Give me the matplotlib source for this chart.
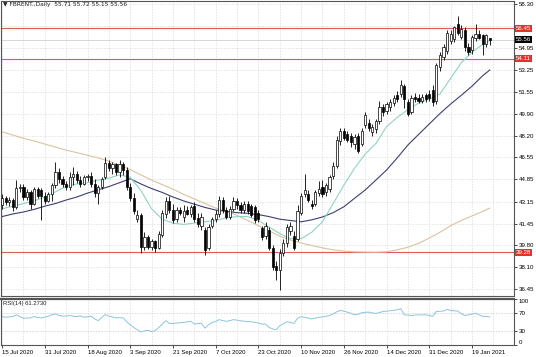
import matplotlib
matplotlib.use("Agg")
import matplotlib.pyplot as plt

plt.rcParams['font.family'] = ['Liberation Sans', 'DejaVu Sans']

# daily candles, FBRENT 15 Jul 2020 .. 26 Jan 2021
opens = [42.9, 43.4, 43.1, 43.3, 42.7, 44.2, 44.3, 43.5, 43.9, 43.0,
         44.1, 44.0, 43.6, 43.2, 43.7, 44.4, 45.4, 44.9, 44.5, 44.3,
         45.0, 45.3, 44.8, 44.5, 45.0, 45.1, 44.5, 43.8, 44.3, 45.0,
         46.1, 45.7, 46.0, 45.4, 46.0, 45.6, 44.3, 43.4, 41.8, 42.1,
         39.7, 40.4, 39.7, 40.1, 39.6, 40.6, 42.2, 43.2, 42.5, 41.8,
         42.5, 42.0, 42.5, 42.2, 42.8, 41.9, 41.3, 41.0, 39.6, 41.3,
         41.8, 42.2, 43.3, 42.5, 42.0, 42.6, 43.2, 42.9, 42.5, 43.0,
         42.8, 42.7, 42.3, 41.1, 40.5, 41.0, 39.6, 38.2, 37.9, 39.2,
         40.0, 40.9, 40.5, 40.3, 42.3, 43.7, 43.7, 43.0, 43.0, 43.8,
         44.3, 43.9, 44.1, 45.1, 45.9, 47.8, 48.6, 48.3, 48.2, 47.6,
         48.2, 47.6, 49.0, 49.2, 48.5, 48.7, 49.3, 50.4, 50.1, 50.4,
         50.7, 51.3, 51.4, 52.0, 50.8, 50.0, 51.2, 51.1, 50.9, 51.3,
         51.4, 51.7, 50.9, 53.5, 54.2, 54.7, 55.5, 55.6, 56.8, 55.8,
         56.3, 55.0, 54.8, 55.7, 56.0, 55.9, 55.2, 55.71]
highs = [43.7, 43.6, 43.5, 43.4, 44.8, 44.5, 44.5, 44.1, 44.0, 44.3,
         44.3, 44.2, 43.9, 43.9, 44.6, 46.2, 45.7, 45.1, 44.7, 45.4,
         45.8, 45.5, 45.1, 45.2, 45.3, 45.4, 44.9, 44.4, 45.0, 46.6,
         46.3, 46.2, 46.1, 46.3, 46.2, 45.8, 44.6, 43.8, 42.5, 42.3,
         40.8, 40.6, 40.3, 40.2, 40.9, 42.5, 43.5, 43.6, 43.0, 42.7,
         42.7, 42.9, 42.8, 42.9, 43.1, 42.3, 42.3, 41.2, 41.4, 42.0,
         42.5, 43.6, 43.5, 42.7, 42.8, 43.5, 43.4, 43.1, 43.2, 43.2,
         43.0, 42.9, 42.5, 41.3, 41.6, 41.2, 39.8, 38.6, 39.5, 40.3,
         41.4, 41.6, 40.9, 42.9, 43.8, 45.3, 44.0, 43.3, 44.0, 44.7,
         44.8, 44.6, 45.2, 46.2, 48.2, 48.8, 48.8, 48.6, 48.4, 48.3,
         48.4, 48.8, 50.0, 49.5, 49.1, 49.5, 50.9, 50.6, 50.8, 51.0,
         51.3, 51.6, 52.5, 52.2, 51.0, 51.3, 51.5, 51.4, 51.4, 51.5,
         51.7, 52.1, 53.8, 54.6, 55.2, 56.3, 56.3, 56.6, 57.4, 56.7,
         56.5, 55.3, 55.9, 56.8, 56.3, 56.0, 56.0, 55.72]
lows = [42.6, 42.9, 42.8, 42.4, 42.6, 43.9, 43.3, 43.3, 42.6, 42.9,
        43.4, 41.7, 43.0, 43.1, 43.2, 44.2, 44.6, 44.3, 44.0, 44.0,
        44.4, 44.6, 44.3, 44.4, 44.7, 44.3, 43.5, 43.0, 44.1, 44.9,
        45.5, 45.3, 45.2, 45.0, 45.2, 44.0, 43.2, 42.2, 41.6, 39.2,
        39.4, 39.5, 39.4, 39.3, 39.5, 40.4, 41.9, 42.3, 41.5, 41.6,
        42.1, 41.6, 42.1, 42.0, 41.6, 41.2, 41.0, 39.05, 39.4, 41.1,
        41.6, 42.0, 42.3, 41.8, 41.8, 42.4, 42.6, 42.3, 42.3, 42.2,
        42.0, 41.5, 41.6, 40.2, 40.3, 39.4, 37.9, 37.1, 36.4, 39.0,
        39.7, 40.6, 39.4, 40.1, 42.1, 43.5, 43.1, 42.6, 42.8, 43.6,
        43.5, 43.6, 43.9, 44.9, 45.7, 47.5, 47.9, 47.7, 47.3, 47.2,
        46.9, 47.4, 48.8, 48.6, 48.2, 48.4, 49.1, 49.7, 49.9, 50.1,
        50.5, 50.8, 51.2, 50.3, 49.7, 49.9, 50.8, 50.7, 50.7, 50.8,
        50.9, 50.5, 50.6, 53.2, 54.0, 54.5, 55.2, 55.4, 55.9, 55.6,
        54.7, 54.4, 54.5, 55.5, 55.6, 54.4, 55.0, 55.15]
closes = [43.4, 43.1, 43.3, 42.7, 44.2, 44.3, 43.5, 43.9, 43.0, 44.1,
          43.6, 43.6, 43.2, 43.7, 44.4, 45.4, 44.9, 44.5, 44.3, 45.0,
          45.3, 44.8, 44.5, 45.0, 45.1, 44.5, 43.8, 44.3, 44.9, 46.1,
          45.7, 46.0, 45.4, 46.0, 45.6, 44.3, 43.4, 42.4, 42.1, 39.7,
          40.4, 39.7, 40.1, 39.6, 40.7, 42.3, 43.2, 42.5, 41.7, 42.5,
          42.3, 42.4, 42.2, 42.7, 41.8, 41.4, 42.0, 39.4, 41.2, 41.8,
          42.2, 43.3, 42.5, 42.0, 42.6, 43.2, 42.9, 42.5, 43.0, 42.4,
          42.1, 41.7, 41.8, 40.4, 41.3, 39.6, 38.1, 37.9, 39.2, 40.0,
          41.2, 41.3, 39.6, 42.4, 43.6, 44.0, 43.3, 42.8, 43.9, 44.1,
          43.7, 44.4, 45.0, 45.9, 47.9, 48.6, 48.0, 47.9, 47.7, 48.1,
          47.0, 48.6, 49.8, 48.8, 48.9, 49.3, 50.4, 50.0, 50.6, 50.8,
          51.1, 51.0, 52.1, 51.0, 49.9, 51.1, 51.0, 50.9, 51.2, 51.0,
          51.1, 50.8, 53.6, 54.4, 55.0, 56.1, 56.0, 56.5, 56.1, 56.4,
          55.0, 54.6, 55.8, 56.0, 55.7, 55.2, 55.9, 55.56]

# moving averages sampled every 3 bars
ma_idx = [0, 3, 6, 9, 12, 15, 18, 21, 24, 27, 30, 33, 36, 39, 42, 45,
          48, 51, 54, 57, 60, 63, 66, 69, 72, 75, 78, 81, 84, 87, 90, 93,
          96, 99, 102, 105, 108, 111, 114, 117, 120, 123, 126, 129, 132,
          135, 137]
ma_fast = [42.6, 42.8, 43.0, 43.2, 43.5, 43.9, 44.3, 44.5, 44.6, 44.8,
           44.95, 45.2, 45.0, 44.0, 42.6, 41.8, 41.5, 41.4, 41.5, 41.6,
           41.7, 41.9, 42.0, 42.0, 41.7, 41.2, 40.7, 40.3, 40.3, 40.8,
           41.6, 43.0, 44.4, 45.7, 46.8, 47.6, 48.9, 49.6, 50.2, 50.7,
           51.0, 51.4, 52.6, 53.8, 54.6, 55.2, 55.5]
ma_slow = [42.0, 42.2, 42.35, 42.55, 42.8, 43.0, 43.27, 43.5, 43.8, 44.05,
           44.3, 44.6, 44.9, 44.5, 44.15, 43.85, 43.5, 43.2, 42.95, 42.7,
           42.5, 42.4, 42.3, 42.25, 42.15, 42.0, 41.8, 41.7, 41.6, 41.75,
           41.97, 42.3, 42.75, 43.4, 44.04, 44.8, 45.57, 46.5, 47.49, 48.3,
           49.1, 49.9, 50.63, 51.3, 52.0, 52.8, 53.24]
ma_long = [48.5, 48.25, 48.0, 47.8, 47.56, 47.33, 47.1, 46.9, 46.7, 46.5,
           46.25, 45.95, 45.6, 45.2, 44.8, 44.45, 44.1, 43.7, 43.35, 43.0,
           42.65, 42.4, 42.1, 41.7, 41.3, 40.9, 40.5, 40.2, 39.97, 39.78,
           39.6, 39.45, 39.35, 39.3, 39.28, 39.27, 39.3, 39.45, 39.65, 39.95,
           40.35, 40.8, 41.3, 41.7, 42.05, 42.4, 42.65]

rsi = [61.8, 60.4, 61.2, 61.8, 65.5, 62.0, 58.1, 58.5, 58.9, 61.8,
       60.0, 58.9, 60.5, 62.6, 66.0, 67.8, 64.1, 62.8, 63.0, 64.1,
       62.5, 61.8, 63.3, 60.4, 61.5, 62.6, 57.0, 52.9, 60.0, 66.3,
       62.6, 61.0, 58.9, 59.5, 58.9, 50.7, 44.0, 38.1, 33.0, 28.5,
       30.7, 32.2, 29.2, 31.0, 38.0, 45.6, 52.9, 47.0, 46.5, 47.8,
       48.5, 49.0, 50.5, 51.5, 45.6, 46.5, 47.0, 36.7, 44.0, 49.3,
       51.0, 55.2, 53.0, 51.5, 53.0, 55.2, 54.0, 53.0, 51.5, 50.7,
       50.7, 49.0, 47.8, 45.6, 45.6, 38.1, 35.0, 33.0, 41.9, 46.0,
       50.7, 49.0, 47.0, 58.1, 61.8, 60.0, 58.0, 56.6, 58.5, 60.4,
       61.0, 62.6, 64.0, 67.8, 72.0, 75.2, 73.5, 71.5, 69.0, 65.5,
       67.0, 70.0, 71.0, 71.5, 70.0, 68.5, 70.5, 72.9, 73.5, 74.4,
       75.5, 76.7, 78.9, 65.5, 65.0, 64.1, 65.0, 65.5, 65.5, 65.5,
       64.0, 62.6, 72.9, 73.3, 73.7, 77.4, 75.2, 74.5, 73.7, 68.0,
       64.1, 65.5, 67.0, 69.3, 65.5, 62.6, 62.0, 61.27]

date_labels = ['15 Jul 2020', '31 Jul 2020', '18 Aug 2020', '3 Sep 2020',
               '21 Sep 2020', '7 Oct 2020', '23 Oct 2020', '10 Nov 2020',
               '26 Nov 2020', '14 Dec 2020', '31 Dec 2020', '19 Jan 2021']
price_ticks = [58.30, 56.60, 54.95, 53.25, 51.55, 49.90, 48.20, 46.55,
               44.85, 43.15, 41.45, 39.80, 38.10, 36.45]
price_labels = ['58.30', '', '54.95', '53.25', '51.55', '49.90', '48.20', '46.55',
                '44.85', '43.15', '41.45', '39.80', '38.10', '36.45']
red_levels = [56.45, 54.11, 39.28]
last_price = 55.56

n = len(closes)
xs = list(range(n))
label_pos = [12 * k for k in range(len(date_labels))]
grid_pos = [6 * k for k in range(24)]

fig = plt.figure(figsize=(5.36, 3.57), dpi=100)
ax = fig.add_axes([1 / 536, 61 / 357, 513 / 536, 295 / 357])
ax2 = fig.add_axes([1 / 536, 12 / 357, 513 / 536, 46 / 357])

grid_kw = dict(color='#d8d8d8', linestyle=(0, (2, 2)), linewidth=0.5)
fs = 4.4

for a in (ax, ax2):
    a.set_xlim(-0.3, 143.8)
    a.set_xticks(grid_pos)
    a.grid(True, **grid_kw)
    a.set_axisbelow(True)
    a.yaxis.tick_right()
    for s in a.spines.values():
        s.set_color('#555555')
        s.set_linewidth(0.8)
ax2.spines['top'].set_linewidth(1.6)

# price panel
ax.set_ylim(35.91, 58.53)
ax.set_yticks(price_ticks)
ax.set_yticklabels(price_labels, fontsize=fs)
ax.tick_params(axis='y', length=2, pad=1.5, width=0.5)
ax.tick_params(axis='x', length=0, labelbottom=False)

for lv in red_levels:
    ax.axhline(lv, color='#e05a5a', linewidth=0.8, zorder=1)
ax.axhline(last_price, color='#c8c8c8', linewidth=0.5, zorder=1)

ax.plot(ma_idx, ma_long, color='#d9c49e', linewidth=0.8, zorder=2)
ax.plot(ma_idx, ma_slow, color='#3c4070', linewidth=0.8, zorder=2)
ax.plot(ma_idx, ma_fast, color='#8fd3c6', linewidth=0.8, zorder=2)

body_bottom = [min(o, c) for o, c in zip(opens, closes)]
body_height = [max(abs(c - o), 0.04) for o, c in zip(opens, closes)]
body_color = ['white' if c >= o else 'black' for o, c in zip(opens, closes)]
ax.vlines(xs, lows, highs, color='black', linewidth=0.6, zorder=3)
ax.bar(xs, body_height, bottom=body_bottom, width=0.62, color=body_color,
       edgecolor='black', linewidth=0.5, zorder=4)

ax.text(0.004, 0.995, '\u25bc FBRENT.,Daily  55.71 55.72 55.15 55.56',
        transform=ax.transAxes, ha='left', va='top', fontsize=4.2,
        color='#222222', family=['DejaVu Sans'])

tr = ax.get_yaxis_transform()
for lv in red_levels:
    ax.text(1.004, lv, '%.2f' % lv, transform=tr, ha='left', va='center',
            fontsize=fs, color='white', clip_on=False, zorder=6,
            bbox=dict(facecolor='#e2332d', edgecolor='none', pad=0.7))
ax.text(1.004, last_price, '%.2f' % last_price, transform=tr, ha='left',
        va='center', fontsize=fs, color='white', clip_on=False, zorder=6,
        bbox=dict(facecolor='black', edgecolor='none', pad=0.7))

# RSI panel
ax2.set_ylim(0, 100)
ax2.set_yticks([100, 70, 30, 0])
ax2.set_yticklabels(['100', '70', '30', '0'], fontsize=fs)
yl = ax2.get_yticklabels()
yl[0].set_va('top')
yl[3].set_va('bottom')
ax2.tick_params(axis='y', length=2, pad=1.5, width=0.5)
for lv in (70, 30):
    ax2.axhline(lv, **grid_kw)
ax2.plot(xs, rsi, color='#8cc6de', linewidth=0.7)
ax2.text(0.004, 0.96, 'RSI(14) 61.2730', transform=ax2.transAxes,
         ha='left', va='top', fontsize=4.2, color='#222222')

ax2.set_xticks(label_pos, minor=False)
ax2.set_xticks(grid_pos, minor=True)
ax2.set_xticklabels(date_labels, fontsize=4.3, ha='left')
ax2.grid(True, which='minor', **grid_kw)
ax2.tick_params(axis='x', which='major', length=2, pad=1.5, width=0.5)
ax2.tick_params(axis='x', which='minor', length=0)

fig.savefig('out.png', dpi=100)
